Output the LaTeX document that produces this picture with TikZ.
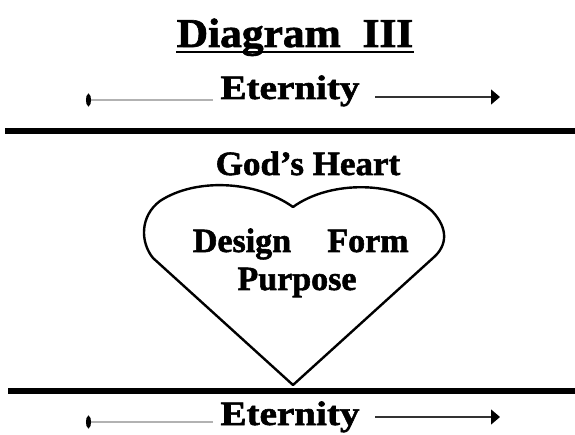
\documentclass[tikz,border=0pt]{standalone}
\usepackage{fontspec}
\setmainfont{Liberation Serif}
\newfontfamily\heavy{Liberation Serif Bold}[FakeBold=1.6]
\usetikzlibrary{arrows.meta}
\tikzset{
  lbl/.style={anchor=base, inner sep=0pt},
  rule/.style={line width=6pt},
  leftarr/.style={draw=gray!60, line width=2pt, -{Circle[length=5pt,width=12pt,black]}},
  rightarr/.style={draw=black!80, line width=1.3pt, -{Triangle[length=9pt,width=15pt,black]}},
  heartline/.style={draw=black, line width=2.4pt, line join=round}
}
\begin{document}
\begin{tikzpicture}[x=1pt,y=-1pt]
\useasboundingbox (0,0) rectangle (575,435);
% title
\node[lbl, font=\heavy\fontsize{41}{41}\selectfont, xscale=1.06] (dg) at (295,47) {Diagram\ \ III};
\draw[line width=2.8pt] ([yshift=-5pt]dg.base west) -- ([yshift=-5pt]dg.base east);
% top eternity
\node[lbl, font=\heavy\fontsize{34}{34}\selectfont, xscale=1.15] (et1) at (290,99) {Eternity};
\coordinate (l1a) at (213,100);
\coordinate (l1b) at (86,100);
\coordinate (r1a) at (375,97);
\coordinate (r1b) at (500,97);
\draw[leftarr] (l1a) -- (l1b);
\draw[rightarr] (r1a) -- (r1b);
% top rule
\coordinate (t1) at (5,131);
\coordinate (t2) at (575,131);
\draw[rule] (t1) -- (t2);
% God's heart
\node[lbl, font=\heavy\fontsize{34}{34}\selectfont, xscale=1.03] (gh) at (308,175) {God’s Heart};
% heart
\coordinate (hb) at (293,385);
\coordinate (hn) at (293,207);
\draw[heartline] (hb) -- (153,258)
  .. controls (140,242) and (140,216) .. (160,201)
  .. controls (195,178) and (255,180) .. (hn)
  .. controls (330,180) and (398,180) .. (432,211)
  .. controls (449,229) and (447,246) .. (433,258)
  -- cycle;
\node[lbl, font=\heavy\fontsize{34}{34}\selectfont] (de) at (242,252) {Design};
\node[lbl, font=\heavy\fontsize{34}{34}\selectfont] (fo) at (368,252) {Form};
\node[lbl, font=\heavy\fontsize{34}{34}\selectfont] (pu) at (297,290) {Purpose};
% bottom rule
\coordinate (b1) at (8,391);
\coordinate (b2) at (575,391);
\draw[rule] (b1) -- (b2);
% bottom eternity
\node[lbl, font=\heavy\fontsize{34}{34}\selectfont, xscale=1.15] (et2) at (290,425) {Eternity};
\coordinate (l2a) at (213,422);
\coordinate (l2b) at (86,422);
\coordinate (r2a) at (375,417);
\coordinate (r2b) at (500,417);
\draw[leftarr] (l2a) -- (l2b);
\draw[rightarr] (r2a) -- (r2b);
\end{tikzpicture}
\end{document}
